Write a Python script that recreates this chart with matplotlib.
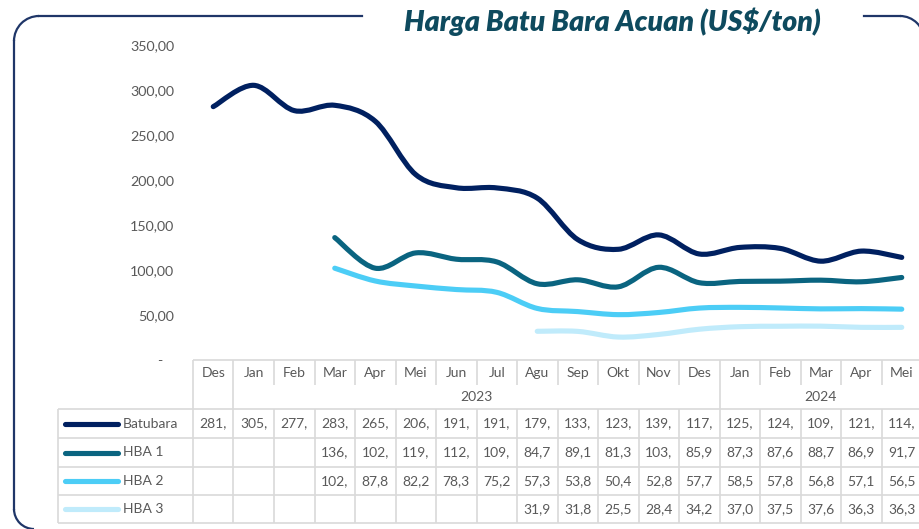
import numpy as np
import matplotlib
matplotlib.use("Agg")
import matplotlib.pyplot as plt
from matplotlib.path import Path
from matplotlib.patches import PathPatch, Arc

# ---------------- data ----------------
months = ['Des', 'Jan', 'Feb', 'Mar', 'Apr', 'Mei', 'Jun', 'Jul', 'Agu', 'Sep',
          'Okt', 'Nov', 'Des', 'Jan', 'Feb', 'Mar', 'Apr', 'Mei']
year_groups = [('', 0, 0), ('2023', 1, 12), ('2024', 13, 17)]
nan = np.nan
batubara = [281.5, 305.2, 277.1, 283.0, 265.3, 206.0, 191.4, 191.2, 179.9, 133.8,
            123.0, 139.0, 117.8, 125.1, 124.0, 109.8, 121.0, 114.0]
hba1 = [nan, nan, nan, 136.0, 102.0, 119.0, 112.0, 109.0, 84.7, 89.1,
        81.3, 103.0, 85.9, 87.3, 87.6, 88.7, 86.9, 91.7]
hba2 = [nan, nan, nan, 102.0, 87.8, 82.2, 78.3, 75.2, 57.3, 53.8,
        50.4, 52.8, 57.7, 58.5, 57.8, 56.8, 57.1, 56.5]
hba3 = [nan, nan, nan, nan, nan, nan, nan, nan, 31.9, 31.8,
        25.5, 28.4, 34.2, 37.0, 37.5, 37.6, 36.3, 36.3]
series_names = ['Batubara', 'HBA 1', 'HBA 2', 'HBA 3']
series_vals = [batubara, hba1, hba2, hba3]
series_colors = ['#002060', '#0a6480', '#4ccdf6', '#c0ebfb']
yticks = [0, 50, 100, 150, 200, 250, 300, 350]
title = 'Harga Batu Bara Acuan (US$/ton)'

# ---------------- layout ----------------
W, H = 920, 529
plt.rcParams['font.family'] = ['Lato', 'DejaVu Sans']
fig = plt.figure(figsize=(W / 100, H / 100), dpi=100)

def fx(px):
    return px / W

def fy(py):
    return 1 - py / H

n = len(months)
col_w = 40.5
x0 = 193
x_right = x0 + n * col_w
y_zero = 360
y_top = 45

# background axes for frame (pixel coordinates)
bg = fig.add_axes([0, 0, 1, 1], zorder=0)
bg.set_xlim(0, W)
bg.set_ylim(H, 0)
bg.axis('off')
fc = '#1f3668'
flw = 1.6
bg.plot([39, 362], [16, 16], color=fc, lw=flw)
bg.plot([14, 14], [41, 509], color=fc, lw=flw)
bg.add_patch(Arc((39, 41), 50, 50, theta1=180, theta2=270, color=fc, lw=flw))
bg.add_patch(Arc((34, 509), 40, 40, theta1=90, theta2=180, color=fc, lw=flw))
bg.plot([864, 900], [16, 16], color=fc, lw=flw)
bg.add_patch(Arc((900, 40), 48, 48, theta1=270, theta2=360, color=fc, lw=flw))
bg.text(612, 31, title, ha='center', va='baseline', fontsize=20.5,
        fontweight='heavy', fontstyle='italic', color='#0e4a5e')

# main chart axes
ax = fig.add_axes([fx(x0), fy(y_zero), fx(x_right) - fx(x0), fy(y_top) - fy(y_zero)], zorder=2)
ax.set_xlim(-0.5, n - 0.5)
ax.set_ylim(0, 350)
ax.patch.set_alpha(0)
for s in ax.spines.values():
    s.set_visible(False)
ax.set_xticks([])
ax.set_yticks(yticks)
ax.set_yticklabels(['-   ' if v == 0 else f'{v:,.2f}'.replace('.', ',') for v in yticks])
ax.tick_params(axis='y', length=0, pad=13.5, labelsize=10.3, labelcolor='#595959')


def smooth_path(xs, ys):
    pts = np.column_stack([xs, ys])
    verts = [pts[0]]
    codes = [Path.MOVETO]
    m = len(pts)
    for i in range(m - 1):
        p0 = pts[i - 1] if i > 0 else pts[i]
        p1 = pts[i]
        p2 = pts[i + 1]
        p3 = pts[i + 2] if i + 2 < m else pts[i + 1]
        c1 = p1 + (p2 - p0) / 6.0
        c2 = p2 - (p3 - p1) / 6.0
        verts += [c1, c2, p2]
        codes += [Path.CURVE4] * 3
    return Path(verts, codes)


lw = 3.7
for vals, col in zip(series_vals, series_colors):
    v = np.array(vals, dtype=float)
    idx = np.where(~np.isnan(v))[0]
    p = smooth_path(idx.astype(float), v[idx])
    ax.add_patch(PathPatch(p, fill=False, edgecolor=col, lw=lw,
                           capstyle='round', joinstyle='round', clip_on=False))

# table axes (x in category units, y in pixels)
tb = fig.add_axes([fx(x0), fy(523), fx(x_right) - fx(x0), fy(y_zero) - fy(523)], zorder=1)
tb.set_xlim(-0.5, n - 0.5)
tb.set_ylim(523, y_zero)
tb.axis('off')
gc = '#d9d9d9'
glw = 1.2
xl = -0.5 - (x0 - 58) / col_w  # left of legend column
row_lines = [409, 438, 467, 495, 523]
kw = dict(color=gc, lw=glw, clip_on=False, solid_capstyle='butt')
tb.plot([-0.5, n - 0.5], [y_zero, y_zero], **kw)
for yy in row_lines:
    tb.plot([xl, n - 0.5], [yy, yy], **kw)
tb.plot([xl, xl], [409, 523], **kw)
tb.plot([-0.5, -0.5], [y_zero, 523], **kw)
group_bounds = [g[2] + 0.5 for g in year_groups]
for i in range(n):
    xb = i + 0.5
    if xb in group_bounds:
        tb.plot([xb, xb], [y_zero, 523], **kw)
    else:
        tb.plot([xb, xb], [y_zero, 385], **kw)
        tb.plot([xb, xb], [409, 523], **kw)

tc = '#595959'
fs = 10
for i, mth in enumerate(months):
    tb.text(i, 373, mth, ha='center', va='center', fontsize=fs, color=tc)
for name, a, b in year_groups:
    tb.text((a + b) / 2, 397, name, ha='center', va='center', fontsize=fs, color=tc)

row_centers = [(row_lines[k] + row_lines[k + 1]) / 2 for k in range(4)]
for name, vals, col, yc in zip(series_names, series_vals, series_colors, row_centers):
    x_leg0 = -0.5 - (x0 - 65) / col_w
    x_leg1 = -0.5 - (x0 - 118) / col_w
    tb.plot([x_leg0, x_leg1], [yc, yc], color=col, lw=lw, solid_capstyle='round', clip_on=False)
    tb.text(-0.5 - (x0 - 123) / col_w, yc, name, ha='left', va='center', fontsize=fs,
            color=tc, clip_on=False)
    for i, v in enumerate(vals):
        if np.isnan(v):
            continue
        s = f'{v:.2f}'.replace('.', ',')[:4]
        tb.text(i, yc, s, ha='center', va='center', fontsize=fs, color=tc)

fig.savefig('out.png', dpi=100)
